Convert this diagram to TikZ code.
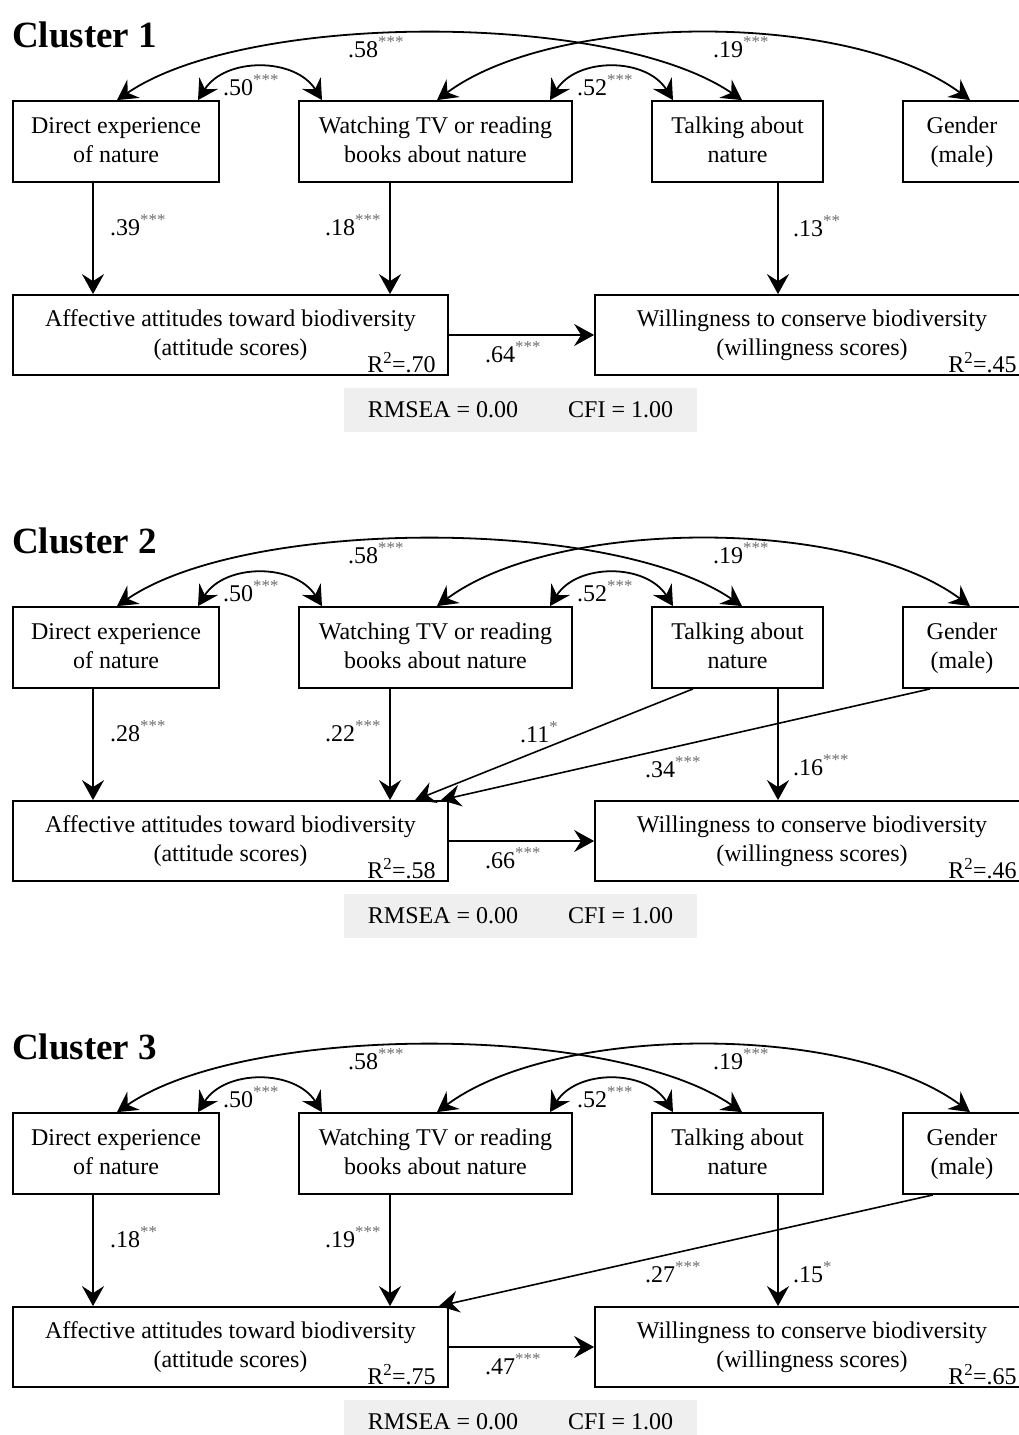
\documentclass[tikz,border=0pt]{standalone}
\usepackage{fontspec}
\setmainfont{Liberation Serif}
\usepackage{xcolor}
\usetikzlibrary{arrows.meta}
\definecolor{StarGray}{HTML}{707070}
\definecolor{PanelGray}{HTML}{EFEFEF}
\newcommand{\sig}[1]{\textsuperscript{\textcolor{StarGray}{#1}}}

\begin{document}
\begin{tikzpicture}[x=1pt,y=-1pt,
    every node/.style={font=\fontsize{24}{29}\selectfont},
    title/.style={anchor=base west, inner sep=0pt, font=\bfseries\fontsize{37}{40}\selectfont},
    var/.style={draw, line width=1.8pt, align=center, inner sep=0pt, minimum height=81pt,
      text height=48pt, text depth=7pt},
    effect/.style={line width=1.6pt, -{Stealth[length=20pt,width=22pt,inset=7pt]}},
    covar/.style={line width=1.8pt, {Stealth[length=20pt,width=22pt,inset=7pt]}-{Stealth[length=20pt,width=22pt,inset=7pt]}},
    coef/.style={anchor=base west, inner sep=0pt},
    rsq/.style={anchor=base east, inner sep=0pt},
    fitbox/.style={fill=PanelGray, inner sep=0pt, minimum width=353pt, minimum height=44pt}]
  \useasboundingbox (0,0) rectangle (1018,1435);
  \foreach \c/\dy/\la/\lb/\lc/\ly/\ld/\ra/\rb in {
    1/0/{.39\sig{***}}/{.18\sig{***}}/{.13\sig{**}}/236/{.64\sig{***}}/.70/.45,
    2/506/{.28\sig{***}}/{.22\sig{***}}/{.16\sig{***}}/269/{.66\sig{***}}/.58/.46,
    3/1012/{.18\sig{**}}/{.19\sig{***}}/{.15\sig{*}}/270/{.47\sig{***}}/.75/.65%
  }{
    \begin{scope}[yshift=-\dy pt]
      \node[title] (head\c) at (12,47) {Cluster \c};
      % observed variables
      \node[var, minimum width=206pt] (dir\c) at (116,141.5) {Direct experience\\of nature};
      \node[var, minimum width=273pt] (watch\c) at (435.5,141.5) {Watching TV or reading\\books about nature};
      \node[var, minimum width=171pt] (talk\c) at (737.5,141.5) {Talking about\\nature};
      \node[var, minimum width=118pt] (gen\c) at (962,141.5) {Gender\\(male)};
      \node[var, minimum width=435pt, minimum height=80pt] (aff\c) at (230.5,335) {Affective attitudes toward biodiversity\\(attitude scores)};
      \node[var, minimum width=434pt, minimum height=80pt] (will\c) at (812,335) {Willingness to conserve biodiversity\\(willingness scores)};
      \node[rsq] (rA\c) at ([xshift=-13pt,yshift=3pt]aff\c.south east) {R\textsuperscript{2}=\ra};
      \node[rsq] (rW\c) at ([xshift=-13pt,yshift=3pt]will\c.south east) {R\textsuperscript{2}=\rb};
      % covariances
      \draw[covar] ([xshift=82pt]dir\c.north) .. controls +(27,-43) and +(-27,-43) .. ([xshift=-113.5pt]watch\c.north);
      \draw[covar] ([xshift=114.5pt]watch\c.north) .. controls +(27,-43) and +(-27,-43) .. ([xshift=-64.5pt]talk\c.north);
      \draw[covar] ([xshift=1pt]dir\c.north) .. controls +(130,-89) and +(-130,-89) .. ([xshift=4.5pt]talk\c.north);
      \draw[covar] ([xshift=1.5pt]watch\c.north) .. controls +(120,-89) and +(-120,-89) .. ([xshift=8pt]gen\c.north);
      \node[coef] (kA\c) at (348,57) {.58\sig{***}};
      \node[coef] (kB\c) at (223,95) {.50\sig{***}};
      \node[coef] (kC\c) at (577,95) {.52\sig{***}};
      \node[coef] (kD\c) at (713,57) {.19\sig{***}};
      % paths
      \draw[effect] ([xshift=-23pt]dir\c.south) -- ([xshift=-137.5pt]aff\c.north);
      \draw[effect] ([xshift=-45.5pt]watch\c.south) -- ([xshift=159.5pt]aff\c.north);
      \draw[effect] ([xshift=40.5pt]talk\c.south) -- ([xshift=-34pt]will\c.north);
      \draw[effect] (aff\c.east) -- (will\c.west);
      \node[coef] (cA\c) at (110,235) {\la};
      \node[coef] (cB\c) at (325,235) {\lb};
      \node[coef] (cC\c) at (793,\ly) {\lc};
      \node[coef] (cD\c) at (485,362) {\ld};
      \ifnum\c=2
        \draw[effect] ([xshift=-44.5pt]talk\c.south) -- ([xshift=184.5pt]aff\c.north);
        \draw[effect] ([xshift=-32pt]gen\c.south) -- ([xshift=-8pt]aff\c.north east);
        \node[coef] (cE\c) at (520,236) {.11\sig{*}};
        \node[coef] (cF\c) at (645,271) {.34\sig{***}};
      \fi
      \ifnum\c=3
        \draw[effect] ([xshift=-29pt]gen\c.south) -- ([xshift=-10pt]aff\c.north east);
        \node[coef] (cF\c) at (645,270) {.27\sig{***}};
      \fi
      % fit indices
      \node[fitbox] (fit\c) at (520.5,410) {RMSEA = 0.00\hspace{50pt}CFI = 1.00};
    \end{scope}
  }
\end{tikzpicture}
\end{document}
